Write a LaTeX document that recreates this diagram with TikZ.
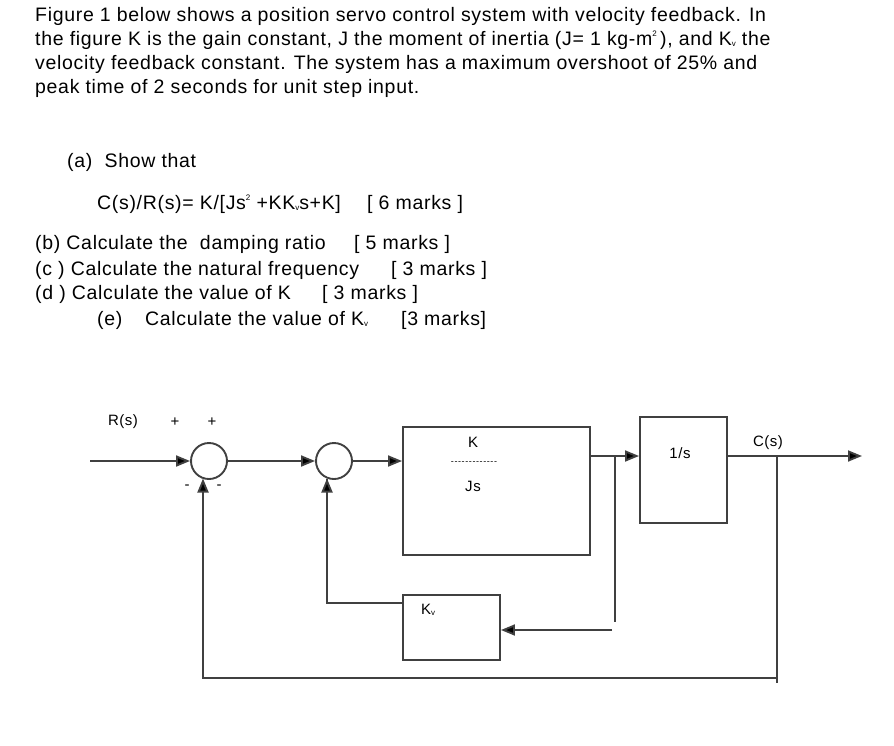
\documentclass[tikz,border=0pt]{standalone}
\usepackage{fontspec}
\setmainfont{Liberation Sans}[LetterSpace=3.5]
\usetikzlibrary{arrows.meta}
\definecolor{ln}{HTML}{404040}
\newcommand{\sbv}{{\fontsize{8}{8}\selectfont\raisebox{-1pt}{v}}}
\newcommand{\sptwo}[1]{{\fontsize{8}{8}\selectfont\raisebox{#1}{2}}}
\newcommand{\dashrow}{{\fontsize{9}{10}\selectfont -\kern0.6pt-\kern0.6pt-\kern0.6pt-\kern0.6pt-\kern0.6pt-\kern0.6pt-\kern0.6pt-\kern0.6pt-\kern0.6pt-\kern0.6pt-\kern0.6pt-\kern0.6pt-}}
\begin{document}
\begin{tikzpicture}[x=1pt,y=-1pt,
  txt/.style={anchor=base west,inner sep=0pt,font=\fontsize{19.5}{24}\selectfont},
  lbl/.style={inner sep=0pt,font=\fontsize{15}{18}\selectfont},
  sumnode/.style={draw=ln,line width=1.9pt,circle,minimum size=36pt,inner sep=0pt},
  blk/.style={draw=ln,line width=1.9pt,rectangle,inner sep=0pt},
  wire/.style={draw=ln,line width=1.9pt},
  arr/.style={wire,-{Triangle[length=14pt,width=11pt,fill=black]}}]
\useasboundingbox (0,0) rectangle (894,745);
% text
\node[txt] (t1) at (35,21) {Figure 1 below shows a position servo control system with velocity feedback. In};
\node[txt] (t2) at (35,45) {the figure K is the gain constant, J the moment of inertia (J= 1 kg-m\sptwo{9pt}\,), and K\sbv{} the};
\node[txt] (t3) at (35,69) {velocity feedback constant. The system has a maximum overshoot of 25\% and};
\node[txt] (t4) at (35,93) {peak time of 2 seconds for unit step input.};
\node[txt] (qa) at (67,167) {(a)\ \ Show that};
\node[txt] (qa2) at (97,209) {C(s)/R(s)= K/[Js\sptwo{9pt}\ +KK\sbv s+K]};
\node[txt] (qa3) at (367,209) {[ 6 marks ]};
\node[txt] (qb) at (35,249) {(b) Calculate the\ \ damping ratio};
\node[txt] (qb2) at (354,249) {[ 5 marks ]};
\node[txt] (qc) at (35,275) {(c ) Calculate the natural frequency};
\node[txt] (qc2) at (391,275) {[ 3 marks ]};
\node[txt] (qd) at (35,299) {(d ) Calculate the value of K};
\node[txt] (qd2) at (322,299) {[ 3 marks ]};
\node[txt] (qe) at (97,325) {(e)};
\node[txt] (qe1) at (145,325) {Calculate the value of K\sbv};
\node[txt] (qe2) at (401,325) {[3 marks]};
% diagram
\node[sumnode] (s1) at (209,461) {};
\node[sumnode] (s2) at (334,461) {};
\node[blk,minimum width=187pt,minimum height=128pt] (G) at (496.5,491) {};
\node[blk,minimum width=87pt,minimum height=106pt] (I) at (683.5,470) {};
\node[blk,minimum width=97pt,minimum height=65pt] (Kv) at (451.5,627.5) {};
\node[lbl] (lr) at (123,422) {R(s)};
\node[lbl] (p1) at (175,422) {+};
\node[lbl] (p2) at (212,422) {+};
\node[lbl] (m1) at (187,487) {-};
\node[lbl] (m2) at (219,487) {-};
\node[lbl] (lk) at (473,442) {K};
\node[lbl] (ld) at (474,463) {\dashrow};
\node[lbl] (ljs) at (473,486) {Js};
\node[lbl] (li) at (680,453) {1/s};
\node[lbl] (lc) at (768,443) {C(s)};
\node[lbl] (lkv) at (428,610) {K\sbv};
\coordinate (in) at (90,461);
\coordinate (gout) at (590,456);
\coordinate (b1) at (615,456);
\coordinate (b1e) at (615,622);
\coordinate (kvin) at (612,630);
\coordinate (out) at (862,456);
\coordinate (b2) at (777,456);
\coordinate (b2e) at (777,683);
\coordinate (bl) at (203,678);
\coordinate (kl) at (327,603);
% wires
\draw[arr] (in) -- (s1.west);
\draw[arr] (s1.east) -- (s2.west);
\draw[arr] (s2.east) -- (G.west |- s2.east);
\draw[arr] (gout) -- (I.west |- gout);
\draw[arr] (I.east |- gout) -- (out);
\draw[wire] (b1) -- (b1e);
\draw[arr] (kvin) -- (Kv.east |- kvin);
\draw[wire] (Kv.west |- kl) -- (kl) -- (327,478.5);
\draw[arr] (327,500) -- (327,478.5);
\draw[wire] (b2) -- (b2e);
\draw[wire] (777,678) -- (bl) -- (203,500);
\draw[arr] (203,500) -- (203,478.5);
\end{tikzpicture}
\end{document}
